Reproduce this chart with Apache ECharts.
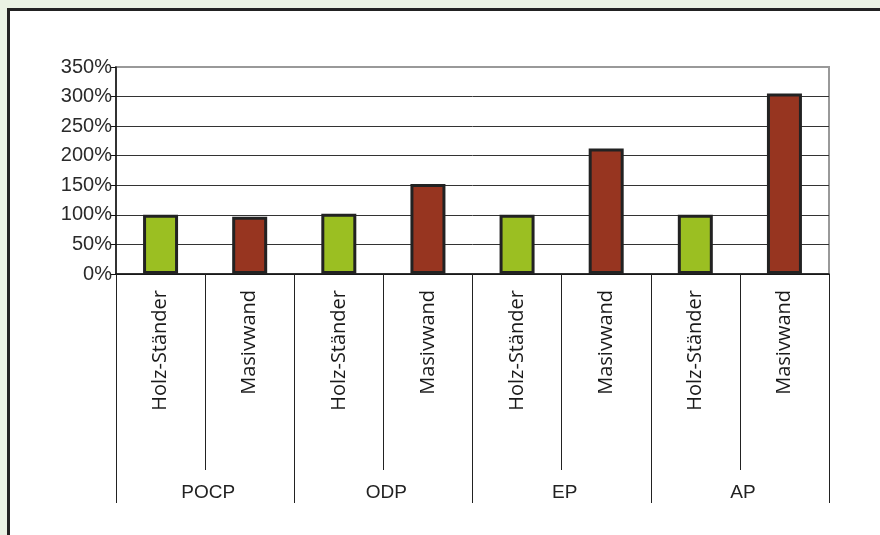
<!DOCTYPE html>
<html>
<head>
<meta charset="utf-8">
<script src="https://cdn.jsdelivr.net/npm/echarts@6/dist/echarts.min.js"></script>
<style>
html,body{margin:0;padding:0;width:880px;height:535px;overflow:hidden;background:#eaf2e4;}
#frame{position:absolute;left:7px;top:8px;width:900px;height:560px;border:3px solid #222;background:#fff;}
#chart{position:absolute;left:0;top:0;width:880px;height:535px;}
</style>
</head>
<body>
<div id="frame"></div>
<div id="chart"></div>
<script>
var categories = ['Holz-Ständer','Masivwand','Holz-Ständer','Masivwand','Holz-Ständer','Masivwand','Holz-Ständer','Masivwand'];
var groups = ['POCP','ODP','EP','AP'];
var values = [100, 97, 102, 152, 100, 212, 100, 305];
var yTicks = [0, 50, 100, 150, 200, 250, 300, 350];

var green = '#9bbf22', red = '#973520';
var chart = echarts.init(document.getElementById('chart'));
chart.setOption({
  animation: false,
  grid: {left: 116, right: 51, top: 67, bottom: 261, show: true, borderColor: '#999', borderWidth: 2},
  xAxis: [{
    type: 'category', data: categories, position: 'bottom',
    axisLine: {lineStyle: {color: '#111', width: 1.5}},
    axisTick: {show: true, interval: 0, length: 196, lineStyle: {color: '#222', width: 1}},
    axisLabel: {interval: 0, rotate: 90, margin: 16, fontFamily: 'Open Sans', fontSize: 20, color: '#1a1a1a'}
  }, {
    type: 'category', data: groups, position: 'bottom',
    axisLine: {show: false},
    axisTick: {show: true, interval: 0, length: 229, lineStyle: {color: '#222', width: 1}},
    axisLabel: {interval: 0, margin: 209, fontFamily: 'Liberation Sans', fontSize: 19, color: '#222', padding: [0, 0, 0, 6]}
  }],
  yAxis: {
    type: 'value', min: yTicks[0], max: yTicks[yTicks.length - 1], interval: 50,
    axisLine: {show: true, lineStyle: {color: '#111', width: 1.5}},
    axisTick: {show: true, length: 5, lineStyle: {color: '#111'}},
    axisLabel: {formatter: '{value}%', fontFamily: 'Liberation Sans', fontSize: 20, color: '#2a2a2a', margin: 4},
    splitLine: {lineStyle: {color: ['#333', '#333', '#333', '#333', '#333', '#333', '#333', '#999'], width: 1}}
  },
  series: [{
    type: 'bar', xAxisIndex: 0, barWidth: 35,
    data: values.map(function (v, i) {
      return {value: v, itemStyle: {color: i % 2 === 0 ? green : red, borderColor: '#222', borderWidth: 3}};
    })
  }]
});
</script>
</body>
</html>
